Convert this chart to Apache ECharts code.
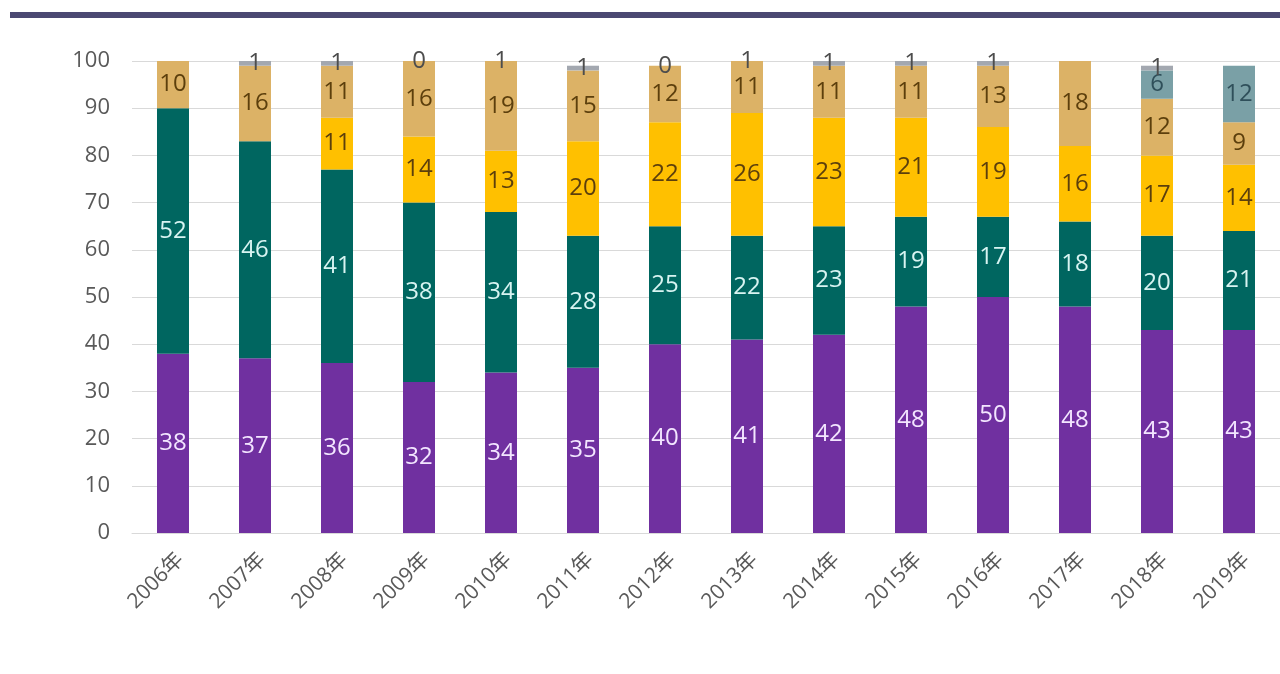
<!DOCTYPE html>
<html>
<head>
<meta charset="utf-8">
<script src="https://cdn.jsdelivr.net/npm/echarts@6/dist/echarts.min.js"></script>
<style>
  html, body { margin: 0; padding: 0; background: #ffffff; }
  #chart { width: 1280px; height: 674px; }
</style>
</head>
<body>
<div id="chart"></div>
<script>
// Years on the category axis
const years = ['2006年','2007年','2008年','2009年','2010年','2011年','2012年','2013年','2014年','2015年','2016年','2017年','2018年','2019年'];

// Shares (%) per segment, stacked bottom to top; null = segment not present
const seriesPurple = [38, 37, 36, 32, 34, 35, 40, 41, 42, 48, 50, 48, 43, 43];
const seriesTeal   = [52, 46, 41, 38, 34, 28, 25, 22, 23, 19, 17, 18, 20, 21];
const seriesGold   = [null, null, 11, 14, 13, 20, 22, 26, 23, 21, 19, 16, 17, 14];
const seriesTan    = [10, 16, 11, 16, 19, 15, 12, 11, 11, 11, 13, 18, 12, 9];
const seriesSlate  = [null, null, null, null, null, null, null, null, null, null, null, null, 6, 12];
const seriesGrey   = [null, 1, 1, 0, 1, 1, 0, 1, 1, 1, 1, null, 1, null];

const yTicks = { min: 0, max: 100, interval: 10 };

const labelFont = '"Open Sans", "Noto Sans", "Noto Sans CJK SC", sans-serif';

function barSeries(name, data, color, labelColor) {
  return {
    name: name,
    type: 'bar',
    stack: 'share',
    data: data,
    barWidth: 32,
    itemStyle: { color: color },
    label: {
      show: true,
      position: 'inside',
      color: labelColor,
      fontSize: 24,
      fontFamily: labelFont,
      formatter: p => (p.value === null || p.value === undefined) ? '' : String(p.value)
    },
    labelLayout: { hideOverlap: false }
  };
}

const chart = echarts.init(document.getElementById('chart'), null, { renderer: 'canvas' });

chart.setOption({
  animation: false,
  backgroundColor: '#ffffff',
  graphic: [
    {
      type: 'rect',
      shape: { x: 10, y: 12, width: 1270, height: 6 },
      style: { fill: '#4b4872' },
      silent: true
    }
  ],
  grid: { left: 132, top: 61, width: 1154, height: 472, containLabel: false },
  xAxis: {
    type: 'category',
    data: years,
    axisLine: { show: true, lineStyle: { color: '#d9d9d9', width: 1 } },
    axisTick: { show: false },
    axisLabel: {
      rotate: 45,
      color: '#595959',
      fontSize: 21,
      fontFamily: labelFont,
      margin: 16,
      verticalAlign: 'top',
      interval: 0
    }
  },
  yAxis: {
    type: 'value',
    min: yTicks.min,
    max: yTicks.max,
    interval: yTicks.interval,
    axisLine: { show: false },
    axisTick: { show: false },
    splitLine: { lineStyle: { color: '#d9d9d9', width: 1 } },
    axisLabel: {
      color: '#595959',
      fontSize: 22,
      fontFamily: labelFont,
      margin: 22
    }
  },
  series: [
    barSeries('a', seriesPurple, '#7030a0', '#f3e6ff'),
    barSeries('b', seriesTeal, '#006660', '#d8f4f2'),
    barSeries('c', seriesGold, '#ffc000', '#5c3f0c'),
    barSeries('d', seriesTan, '#dcb266', '#5c3f0c'),
    barSeries('e', seriesSlate, '#7aa0a6', '#2f4f5a'),
    barSeries('f', seriesGrey, '#a3a8b0', '#4d4d4d')
  ]
});
</script>
</body>
</html>
